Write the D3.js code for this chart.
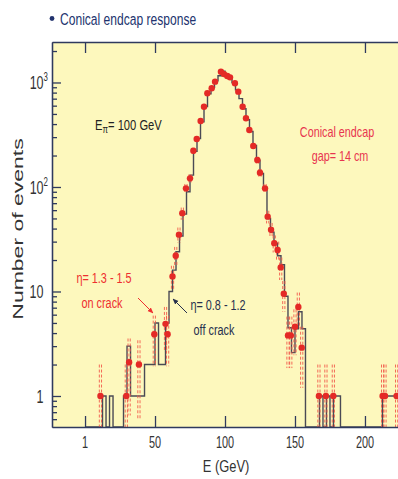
<!DOCTYPE html>
<html>
<head>
<meta charset="utf-8">
<script src="https://cdn.jsdelivr.net/npm/d3@7"></script>
<style>
  body { margin: 0; background: #fff; }
  text { font-family: 'Liberation Sans', Arial, sans-serif; }
</style>
</head>
<body>
<svg id="chart" width="398" height="479"></svg>
<script>
const binWidth = 2.5;
const binStarts = [12.5, 17.5, 27.5, 30, 32.5, 35, 37.5, 40, 42.5, 45, 47.5, 50, 52.5, 55, 57.5,
  60, 62.5, 65, 67.5, 70, 72.5, 75, 77.5, 80, 82.5, 85, 87.5, 90, 92.5, 95, 97.5,
  100, 102.5, 105, 107.5, 110, 112.5, 115, 117.5, 120, 122.5, 125, 127.5, 130, 132.5,
  135, 137.5, 140, 142.5, 145, 147.5, 150, 152.5, 155, 167.5, 172.5, 177.5, 180,
  212.5, 215, 217.5, 220, 222.5];
const binCounts = [1, 1, 1, 3, 1, 1, 1, 1, 2, 2, 2, 5, 2, 2, 5,
  10, 16, 24, 34, 55, 90, 130, 220, 290, 420, 590, 780, 900, 1040, 1160, 1280,
  1200, 1130, 1000, 850, 700, 560, 440, 340, 250, 180, 135, 95, 50, 37,
  29, 22, 18, 9, 4.5, 2.6, 4.4, 6.4, 4.4, 1, 1, 1, 1,
  1, 1, 1, 1, 1];

const pointE = [11, 29.5, 31.5, 38.5, 49.5, 57.5, 59, 62.5, 64.8, 67.1, 69.5, 72.1, 75,
  77.4, 79.8, 82.6, 85, 87.4, 90.5, 92.9, 97.1, 99.3, 101.6, 103.6, 107.1, 109.5,
  112.6, 115, 117.4, 120.2, 123.1, 125, 128.6, 130.5, 132.9, 135.2, 137.6, 139.8,
  142, 145, 147, 150, 152.4, 154.8, 167.1, 172.1, 177.4, 212.6, 214.3, 222.6];
const pointN = [1, 1, 2.1, 2, 3.9, 4.9, 3.9, 13.9, 22, 35, 56, 97, 121,
  222, 288, 428, 586, 788, 880, 1018, 1268, 1203, 1153, 1120, 982, 817,
  586, 454, 351, 247, 181, 137, 97, 52, 39, 29, 25, 17,
  9.5, 3.8, 3.8, 4.6, 7.1, 2.9, 1, 1, 1, 1, 1, 1];

const xTicks = [0, 50, 100, 150, 200];
const xTickLabels = ['1', '50', '100', '150', '200'];
const yTicks = [1, 10, 100, 1000];
const yTickBase = ['1', '10', '10', '10'];
const yTickSup = ['', '', '2', '3'];

const svg = d3.select('#chart');
const plot = { left: 52, right: 398, top: 42, bottom: 427 };

const x = d3
  .scaleLinear()
  .domain([-23.6, 223.6])
  .range([plot.left, plot.right]);

const y = d3
  .scaleLog()
  .domain([0.505, 2440])
  .range([plot.bottom, plot.top]);

const label = (parent, px, py, txt, size, sx, anchor, fill) =>
  parent
    .append('text')
    .attr('transform', 'translate(' + px + ',' + py + ') scale(' + sx + ',1)')
    .attr('font-size', size)
    .attr('text-anchor', anchor)
    .attr('fill', fill)
    .text(txt);

svg.append('rect').attr('width', 398).attr('height', 479).attr('fill', '#fff');

svg
  .append('rect')
  .attr('x', plot.left)
  .attr('y', plot.top)
  .attr('width', plot.right - plot.left + 10)
  .attr('height', plot.bottom - plot.top)
  .attr('fill', '#fdf8bd');

svg
  .append('defs')
  .append('clipPath')
  .attr('id', 'clip')
  .append('rect')
  .attr('x', plot.left)
  .attr('y', plot.top)
  .attr('width', plot.right - plot.left)
  .attr('height', plot.bottom - plot.top);

// title
svg.append('circle').attr('cx', 52).attr('cy', 18.5).attr('r', 2.4).attr('fill', '#22336e');
label(svg, 60, 25, 'Conical endcap response', 17, 0.71, 'start', '#22336e');

// histogram
const counts = new Map(binStarts.map((s, i) => [Math.round(s * 10), binCounts[i]]));
const bins = d3.range(0, 227.5, binWidth).map(s => ({ e: s, n: counts.get(Math.round(s * 10)) || 0 }));

const line = d3
  .line()
  .x(d => x(d.e))
  .y(d => (d.n > 0 ? y(d.n) : plot.bottom))
  .curve(d3.curveStepAfter);

const marks = svg.append('g').attr('clip-path', 'url(#clip)');

marks
  .append('path')
  .datum(bins)
  .attr('d', line)
  .attr('fill', 'none')
  .attr('stroke', '#4a4a55')
  .attr('stroke-width', 1.4);

// red points with dashed error bars
const points = pointE.map((e, i) => ({ e: e, n: pointN[i] }));

[-1.1, 1.1].forEach(off => {
  marks
    .selectAll(null)
    .data(points)
    .enter()
    .append('line')
    .attr('x1', d => x(d.e) + off)
    .attr('x2', d => x(d.e) + off)
    .attr('y1', d => y(d.n + Math.sqrt(d.n)))
    .attr('y2', d => (d.n - Math.sqrt(d.n) > 0.505 ? y(d.n - Math.sqrt(d.n)) : plot.bottom))
    .attr('stroke', '#f25a4c')
    .attr('stroke-width', 0.9)
    .attr('stroke-dasharray', '3,2');
});

marks
  .selectAll('.pt')
  .data(points)
  .enter()
  .append('circle')
  .classed('pt', true)
  .attr('cx', d => x(d.e))
  .attr('cy', d => y(d.n))
  .attr('r', 3.2)
  .attr('fill', '#e42a26');

// axes
const minorTicks = [];
[0.1, 1, 10, 100, 1000].forEach(p => {
  d3.range(2, 10).forEach(k => {
    const v = p * k;
    if (v > 0.505 && v < 2440) minorTicks.push(v);
  });
});

const axisColor = '#2f3a5e';

const styleAxis = g => {
  g.selectAll('path, line').attr('stroke', axisColor).attr('stroke-width', 1.3);
  g.selectAll('text').remove();
};

svg
  .append('g')
  .attr('transform', 'translate(' + plot.left + ',0)')
  .call(d3.axisLeft(y).tickValues(minorTicks).tickSize(-5).tickSizeOuter(0).tickFormat(''))
  .call(styleAxis);

svg
  .append('g')
  .attr('transform', 'translate(' + plot.left + ',0)')
  .call(d3.axisLeft(y).tickValues(yTicks).tickSize(-9).tickSizeOuter(0).tickFormat(''))
  .call(styleAxis);

svg
  .append('g')
  .attr('transform', 'translate(0,' + plot.bottom + ')')
  .call(d3.axisBottom(x).tickValues(xTicks).tickSize(-11).tickSizeOuter(0).tickFormat(''))
  .call(styleAxis);

svg
  .append('g')
  .attr('transform', 'translate(0,' + plot.top + ')')
  .call(d3.axisTop(x).tickValues(xTicks).tickSize(-11).tickSizeOuter(0).tickFormat(''))
  .call(styleAxis);

// tick labels
xTicks.forEach((v, i) => {
  label(svg, x(v), 448, xTickLabels[i], 16, 0.68, 'middle', '#333');
});

yTicks.forEach((v, i) => {
  const t = label(svg, yTickSup[i] ? 48 : 43.5, y(v) + 7, null, 19, 0.66, 'end', '#333');
  t.append('tspan').text(yTickBase[i]);
  if (yTickSup[i]) {
    t.append('tspan').attr('dy', -8).attr('font-size', 12).text(yTickSup[i]);
  }
});

label(svg, 226, 472, 'E (GeV)', 17, 0.76, 'middle', '#333');

svg
  .append('text')
  .attr('transform', 'translate(23,229) rotate(-90) scale(1,0.6)')
  .attr('font-size', 23)
  .attr('text-anchor', 'middle')
  .attr('fill', '#333')
  .text('Number of events');

// annotations
const ePi = label(svg, 95, 130, null, 14, 0.8, 'start', '#222');
ePi.append('tspan').text('E');
ePi.append('tspan').attr('font-size', 10).attr('dy', 3).text('π');
ePi.append('tspan').attr('dy', -3).text('= 100 GeV');

label(svg, 337, 137, 'Conical endcap', 14, 0.77, 'middle', '#e8354f');
label(svg, 340, 161, 'gap= 14 cm', 14, 0.77, 'middle', '#e8354f');

label(svg, 104, 283, 'η= 1.3 - 1.5', 14.5, 0.75, 'middle', '#ee2f2f');
label(svg, 102, 308, 'on crack', 14.5, 0.75, 'middle', '#ee2f2f');

label(svg, 218, 310, 'η= 0.8 - 1.2', 14.5, 0.75, 'middle', '#26304d');
label(svg, 214, 335, 'off crack', 14.5, 0.75, 'middle', '#26304d');

const defs = svg.select('defs');
[['red', '#ee2f2f'], ['dark', '#26304d']].forEach(([id, c]) => {
  defs
    .append('marker')
    .attr('id', 'arrow-' + id)
    .attr('viewBox', '0 0 10 10')
    .attr('refX', 9)
    .attr('refY', 5)
    .attr('markerWidth', 6)
    .attr('markerHeight', 6)
    .attr('orient', 'auto')
    .append('path')
    .attr('d', 'M0,1 L10,5 L0,9 z')
    .attr('fill', c);
});

svg
  .append('line')
  .attr('x1', 138)
  .attr('y1', 298)
  .attr('x2', 153)
  .attr('y2', 313)
  .attr('stroke', '#ee2f2f')
  .attr('stroke-width', 1)
  .attr('marker-end', 'url(#arrow-red)');

svg
  .append('line')
  .attr('x1', 187)
  .attr('y1', 313)
  .attr('x2', 173)
  .attr('y2', 299)
  .attr('stroke', '#26304d')
  .attr('stroke-width', 1)
  .attr('marker-end', 'url(#arrow-dark)');
</script>
</body>
</html>
